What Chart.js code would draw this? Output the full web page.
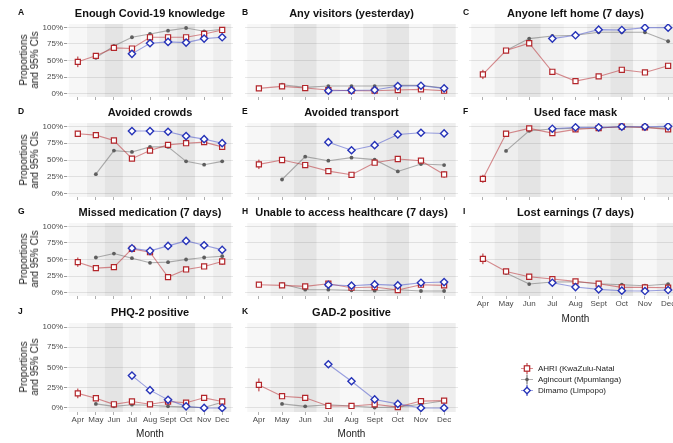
<!DOCTYPE html>
<html>
<head>
<meta charset="utf-8">
<script src="https://cdn.jsdelivr.net/npm/chart.js@4/dist/chart.umd.min.js"></script>
<style>
  html, body { margin: 0; padding: 0; overflow: hidden; }
  body { width: 673px; height: 443px; position: relative; background: #fff; font-family: "Liberation Sans", Arial, sans-serif; }
  canvas { position: absolute; }
  .title { position: absolute; font-weight: bold; font-size: 11px; color: #111; white-space: nowrap; transform: translate(-50%, -50%); }
  .letter { position: absolute; font-weight: bold; font-size: 8.5px; color: #111; transform: translateY(-50%); }
  .ytitle { position: absolute; font-size: 10px; color: #222; text-align: center; line-height: 11px; white-space: nowrap; transform: translate(-50%, -50%) rotate(-90deg); }
  .xtitle { position: absolute; font-size: 10px; color: #222; transform: translate(-50%, -50%); }
  .legend { position: absolute; left: 521px; top: 363px; font-size: 8px; color: #222; }
  .legend div { height: 11px; display: flex; align-items: center; }
  .legend svg { margin-right: 5px; }
</style>
</head>
<body>
<script>
const months = ['Apr', 'May', 'Jun', 'Jul', 'Aug', 'Sept', 'Oct', 'Nov', 'Dec'];
const yTicks = [0, 25, 50, 75, 100];
const siteNames = ['AHRI (KwaZulu-Natal', 'Agincourt (Mpumlanga)', 'Dimamo (Limpopo)'];

// A - Enough Covid-19 knowledge
const ahriA   = [48, 57, 69, 68, 85, 85, 85, 90, 96];
const agincA  = [null, 54, 72, 85, 90, 95, 99, 94, 97];
const dimamoA = [null, null, null, 60, 76, 78, 77, 83, 85];
const errA    = [8, 3, 2, 2, 2, 2, 2, 2, 2];
// B - Any visitors (yesterday)
const ahriB   = [8, 11, 8.5, 5.5, 4.5, 4.5, 5.5, 6.5, 4.5];
const agincB  = [null, 13.5, 9.5, 11.5, 11.5, 11.5, 12.5, 12.5, 8.5];
const dimamoB = [null, null, null, 4.5, 5, 5.5, 11.5, 12, 8];
const errB    = [3, 2, 2, 2, 2, 2, 2, 2, 2];
// C - Anyone left home (7 days)
const ahriC   = [29, 65, 76, 33, 19, 26, 36, 32, 42];
const agincC  = [null, 65, 83, 87, 88, 92.5, 92.5, 92.5, 79];
const dimamoC = [null, null, null, 83, 88, 96.5, 96, 99.5, 99.5];
const errC    = [7, 3, 3, 3, 2, 2, 3, 3, 4];
// D - Avoided crowds
const ahriD   = [89, 87, 79, 52, 64, 72.5, 75, 76.5, 69.5];
const agincD  = [null, 29, 64, 62, 69.5, 69.5, 48, 43, 48];
const dimamoD = [null, null, null, 93, 93, 92, 85.5, 81, 75];
const errD    = [4, 3, 3, 3, 3, 3, 3, 3, 4];
// E - Avoided transport
const ahriE   = [43.5, 50, 42.5, 33.5, 28, 46, 51.5, 49, 28.5];
const agincE  = [null, 21, 55, 49, 53.5, 50.5, 33, 44, 42.5];
const dimamoE = [null, null, null, 76.5, 64.5, 72, 88, 90.5, 89.5];
const errE    = [7, 3, 3, 3, 3, 3, 3, 3, 5];
// F - Used face mask
const ahriF   = [22, 89, 97, 90, 95.5, 97.5, 99.5, 98.5, 95.5];
const agincF  = [null, 63.5, 93.5, 96, 97, 97.5, 99.5, 98.5, 97];
const dimamoF = [null, null, null, 96.5, 98.5, 98.5, 99.5, 99.5, 100];
const errF    = [6, 2, 2, 2, 1, 1, 1, 1, 2];
// G - Missed medication (7 days)
const ahriG   = [46, 37, 38.5, 66, 61, 23.5, 35, 39.5, 47];
const agincG  = [null, 53, 59, 52, 45, 46, 50, 53, 55];
const dimamoG = [null, null, null, 67, 63, 70.5, 78, 71.5, 64.5];
const errG    = [7, 3, 3, 3, 3, 3, 3, 3, 5];
// H - Unable to access healthcare (7 days)
const ahriH   = [12, 11, 9.5, 13.5, 7.5, 8.5, 4, 12, 11];
const agincH  = [null, 13, 4.5, 4.5, 3.5, 3, 4.5, 2.5, 2.5];
const dimamoH = [null, null, null, 12, 10.5, 12.5, 11, 15, 16];
const errH    = [4, 2, 2, 2, 2, 2, 2, 2, 3];
// I - Lost earnings (7 days)
const ahriI   = [51, 32, 24, 20.5, 17, 13.5, 8, 8, 7.5];
const agincI  = [null, 29.5, 13, 16, 16.5, 13.5, 12, 10.5, 13];
const dimamoI = [null, null, null, 15, 8.5, 5, 3, 2.5, 4];
const errI    = [8, 3, 2, 2, 2, 2, 2, 2, 2];
// J - PHQ-2 positive
const ahriJ   = [18, 12, 4.5, 8, 4.5, 8, 6.5, 12.5, 8];
const agincJ  = [null, 5, 2, 4, 3.3, 2, 1, 0.5, 7];
const dimamoJ = [null, null, null, 40, 22, 10, 2, 0, 0];
const errJ    = [6, 2, 2, 2, 2, 2, 2, 2, 2];
// K - GAD-2 positive
const ahriK   = [28.5, 14.5, 12.5, 2.5, 2.5, 4.5, 1, 8.5, 9];
const agincK  = [null, 5, 2, 4, 2.5, 0.5, 1, 4.5, 9];
const dimamoK = [null, null, null, 54, 33, 10.5, 5, 0, 0];
const errK    = [8, 2, 2, 1, 1, 2, 1, 2, 2];

// month shading behind each panel
const bandShades = ['#f7f7f7', '#eeeeee', '#e4e4e4', '#f2f2f2', '#f8f8f8', '#eeeeee', '#e5e5e5', '#f7f7f7', '#eeeeee'];

const cols = [{ left: 67, right: 233 }, { left: 245, right: 458 }, { left: 469, right: 682 }];
const rows = [{ top: 23.7, bottom: 96.3 }, { top: 122.7, bottom: 196.4 }, { top: 222.7, bottom: 295.8 }, { top: 322.5, bottom: 411 }];

const panels = [
  { letter: 'A', title: 'Enough Covid-19 knowledge', col: 0, row: 0, ahri: ahriA, aginc: agincA, dimamo: dimamoA, err: errA },
  { letter: 'B', title: 'Any visitors (yesterday)', col: 1, row: 0, ahri: ahriB, aginc: agincB, dimamo: dimamoB, err: errB },
  { letter: 'C', title: 'Anyone left home (7 days)', col: 2, row: 0, ahri: ahriC, aginc: agincC, dimamo: dimamoC, err: errC },
  { letter: 'D', title: 'Avoided crowds', col: 0, row: 1, ahri: ahriD, aginc: agincD, dimamo: dimamoD, err: errD },
  { letter: 'E', title: 'Avoided transport', col: 1, row: 1, ahri: ahriE, aginc: agincE, dimamo: dimamoE, err: errE },
  { letter: 'F', title: 'Used face mask', col: 2, row: 1, ahri: ahriF, aginc: agincF, dimamo: dimamoF, err: errF },
  { letter: 'G', title: 'Missed medication (7 days)', col: 0, row: 2, ahri: ahriG, aginc: agincG, dimamo: dimamoG, err: errG },
  { letter: 'H', title: 'Unable to access healthcare (7 days)', col: 1, row: 2, ahri: ahriH, aginc: agincH, dimamo: dimamoH, err: errH },
  { letter: 'I', title: 'Lost earnings (7 days)', col: 2, row: 2, ahri: ahriI, aginc: agincI, dimamo: dimamoI, err: errI, xlab: true },
  { letter: 'J', title: 'PHQ-2 positive', col: 0, row: 3, ahri: ahriJ, aginc: agincJ, dimamo: dimamoJ, err: errJ, xlab: true },
  { letter: 'K', title: 'GAD-2 positive', col: 1, row: 3, ahri: ahriK, aginc: agincK, dimamo: dimamoK, err: errK, xlab: true },
];

const RED = '#b3262b', GREY = '#5e5e5e', BLUE = '#2633b8';

const bandPlugin = {
  id: 'bands',
  beforeDraw(chart) {
    const { ctx, chartArea: a, scales: { x } } = chart;
    ctx.save();
    months.forEach((m, i) => {
      const x0 = Math.max(a.left, x.getPixelForValue(i - 0.5));
      const x1 = Math.min(a.right, x.getPixelForValue(i + 0.5));
      ctx.fillStyle = bandShades[i];
      ctx.fillRect(x0, a.top, x1 - x0, a.bottom - a.top);
    });
    ctx.restore();
  }
};

const errPlugin = {
  id: 'errbars',
  beforeDatasetsDraw(chart, args, opts) {
    const { ctx, scales: { x, y } } = chart;
    const vals = opts.values, err = opts.err;
    ctx.save();
    ctx.strokeStyle = RED;
    ctx.lineWidth = 1;
    vals.forEach((v, i) => {
      if (v == null) return;
      const px = x.getPixelForValue(i);
      ctx.beginPath();
      ctx.moveTo(px, y.getPixelForValue(Math.max(v - err[i], -4)));
      ctx.lineTo(px, y.getPixelForValue(Math.min(v + err[i], 104)));
      ctx.stroke();
    });
    ctx.restore();
  }
};

function pts(arr) {
  return arr.map((v, i) => ({ x: i, y: v })).filter(d => d.y != null);
}

function addText(cls, text, left, top) {
  const d = document.createElement('div');
  d.className = cls;
  d.innerHTML = text;
  d.style.left = left + 'px';
  d.style.top = top + 'px';
  document.body.appendChild(d);
}

function makePanel(p) {
  const col = cols[p.col], row = rows[p.row];
  const pad = 6;
  const yW = p.col === 0 ? 40 : 0;
  const xH = p.xlab ? 14 : 4;
  const w = col.right - col.left, h = row.bottom - row.top;

  const cv = document.createElement('canvas');
  cv.width = Math.round(w + yW + 2 * pad);
  cv.height = Math.round(h + xH + 2 * pad);
  cv.style.left = (col.left - yW - pad) + 'px';
  cv.style.top = (row.top - pad) + 'px';
  document.body.appendChild(cv);

  new Chart(cv, {
    type: 'line',
    data: {
      datasets: [
        { label: siteNames[2], data: pts(p.dimamo), order: 1, borderColor: 'rgba(60,72,200,0.5)', borderWidth: 1.1,
          pointStyle: 'rectRot', pointRadius: 3.6, pointBorderWidth: 1.4, pointBackgroundColor: '#fff', pointBorderColor: BLUE },
        { label: siteNames[0], data: pts(p.ahri), order: 2, borderColor: 'rgba(185,50,55,0.55)', borderWidth: 1.1,
          pointStyle: 'rect', pointRadius: 3.6, pointBorderWidth: 1.2, pointBackgroundColor: '#fff', pointBorderColor: RED },
        { label: siteNames[1], data: pts(p.aginc), order: 3, borderColor: 'rgba(100,100,100,0.5)', borderWidth: 1.1,
          pointStyle: 'circle', pointRadius: 1.9, pointBorderWidth: 0, pointBackgroundColor: GREY, pointBorderColor: GREY },
      ]
    },
    options: {
      responsive: false,
      animation: false,
      layout: { padding: pad, autoPadding: false },
      plugins: {
        legend: { display: false },
        tooltip: { enabled: false },
        errbars: { values: p.ahri, err: p.err },
      },
      scales: {
        x: {
          type: 'linear', min: -0.6, max: 8.6,
          afterBuildTicks: s => { s.ticks = months.map((m, i) => ({ value: i })); },
          afterFit: s => { s.height = xH; },
          border: { display: false },
          grid: { drawOnChartArea: false, drawTicks: true, tickLength: 3, tickColor: '#9a9a9a', lineWidth: 0.8 },
          ticks: { display: !!p.xlab, padding: 0, maxRotation: 0, autoSkip: false, color: '#4a4a4a',
                   font: { family: 'Liberation Sans', size: 8 }, callback: v => months[v] },
        },
        y: {
          min: -5, max: 105,
          afterBuildTicks: s => { s.ticks = yTicks.map(v => ({ value: v })); },
          afterFit: s => { s.width = yW; },
          border: { display: false },
          grid: { color: 'rgba(0,0,0,0.09)', lineWidth: 1, drawTicks: p.col === 0, tickLength: 3, tickColor: '#9a9a9a' },
          ticks: { display: p.col === 0, padding: 1, color: '#4a4a4a',
                   font: { family: 'Liberation Sans', size: 8 }, callback: v => v + '%' },
        }
      }
    },
    plugins: [bandPlugin, errPlugin]
  });

  const titleY = row.top - 11;
  addText('title', p.title, (col.left + col.right) / 2, titleY);
  const letterX = [18, 242, 463][p.col];
  addText('letter', p.letter, letterX, titleY - 1);
  if (p.col === 0) {
    const y0 = (row.top + row.bottom) / 2;
    addText('ytitle', 'Proportions<br>and 95% CIs', 29, y0);
  }
  if (p.xlab) {
    addText('xtitle', 'Month', (col.left + col.right) / 2, row.bottom + 22);
  }
}

panels.forEach(makePanel);

// legend
const legend = document.createElement('div');
legend.className = 'legend';
legend.innerHTML = `
  <div><svg width="12" height="11"><line x1="0" y1="5.5" x2="12" y2="5.5" stroke="rgba(185,50,55,0.55)"/><line x1="6" y1="0" x2="6" y2="11" stroke="${RED}"/><rect x="3.3" y="2.8" width="5.4" height="5.4" fill="#fff" stroke="${RED}" stroke-width="1.2"/></svg>${siteNames[0]}</div>
  <div><svg width="12" height="11"><line x1="0" y1="5.5" x2="12" y2="5.5" stroke="rgba(100,100,100,0.5)"/><line x1="6" y1="0.5" x2="6" y2="10.5" stroke="${GREY}"/><circle cx="6" cy="5.5" r="1.8" fill="${GREY}"/></svg>${siteNames[1]}</div>
  <div><svg width="12" height="11"><line x1="0" y1="5.5" x2="12" y2="5.5" stroke="rgba(60,72,200,0.5)"/><line x1="6" y1="0" x2="6" y2="11" stroke="${BLUE}"/><rect x="3.7" y="3.2" width="4.6" height="4.6" fill="#fff" stroke="${BLUE}" stroke-width="1.3" transform="rotate(45 6 5.5)"/></svg>${siteNames[2]}</div>
`;
document.body.appendChild(legend);
</script>
</body>
</html>
